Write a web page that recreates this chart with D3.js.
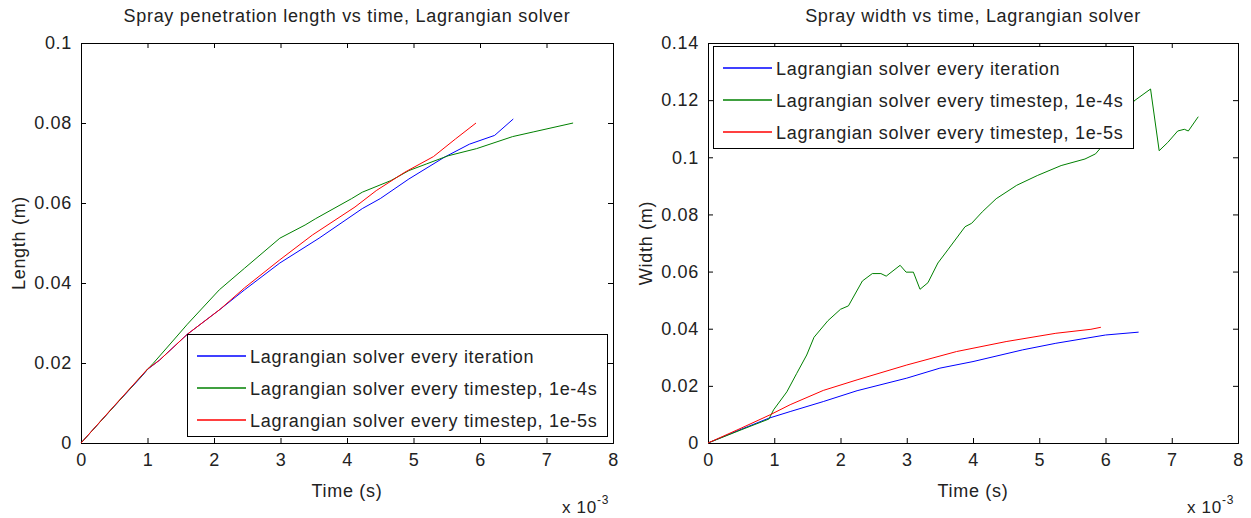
<!DOCTYPE html>
<html>
<head>
<meta charset="utf-8">
<script src="https://cdn.jsdelivr.net/npm/d3@7"></script>
<style>
  body { margin: 0; background: #fff; }
  svg text { font-family: "Liberation Sans", Arial, sans-serif; fill: #222; letter-spacing: 0.7px; }
</style>
</head>
<body>
<div id="chart"></div>
<script>
// time in units of 1e-3 s
const seriesNames = [
  "Lagrangian solver every iteration",
  "Lagrangian solver every timestep, 1e-4s",
  "Lagrangian solver every timestep, 1e-5s"
];
const seriesColors = ["#0000ff", "#008000", "#ff0000"];

// --- penetration length ---
const lenIterT = [0, 0.5, 0.92, 1.0, 1.18, 1.6, 2.09, 2.46, 2.99, 3.58, 4.23, 4.5, 4.93, 5.46, 5.84, 6.22, 6.5];
const lenIterV = [0, 0.0092, 0.0168, 0.0184, 0.0207, 0.0272, 0.0334, 0.0383, 0.045, 0.0512, 0.0586, 0.0611, 0.066, 0.0714, 0.0747, 0.0769, 0.081];
const len4T = [0, 0.5, 1.0, 1.08, 1.38, 1.6, 2.08, 2.46, 2.99, 3.37, 3.53, 4.07, 4.23, 4.66, 4.93, 5.2, 5.52, 5.95, 6.49, 6.81, 7.4];
const len4V = [0, 0.0092, 0.0184, 0.0198, 0.0255, 0.0297, 0.0383, 0.0437, 0.0512, 0.0545, 0.0561, 0.0611, 0.0627, 0.0656, 0.0681, 0.0698, 0.0718, 0.0736, 0.0766, 0.0778, 0.080];
const len5T = [0, 0.5, 1.0, 1.18, 1.6, 2.09, 2.46, 2.99, 3.48, 4.12, 4.44, 4.87, 5.3, 5.63, 5.94];
const len5V = [0, 0.0093, 0.0185, 0.0207, 0.0272, 0.0334, 0.0388, 0.0458, 0.052, 0.059, 0.0631, 0.0677, 0.0716, 0.076, 0.080];

// --- spray width ---
const widIterT = [0, 0.5, 0.92, 1.24, 1.74, 2.25, 3.0, 3.5, 4.0, 4.75, 5.25, 6.0, 6.5];
const widIterV = [0, 0.0048, 0.0087, 0.011, 0.0145, 0.0183, 0.0227, 0.0262, 0.0285, 0.0326, 0.0349, 0.0378, 0.0388];
const wid4T = [0, 0.5, 0.92, 0.99, 1.19, 1.34, 1.49, 1.6, 1.81, 2.0, 2.12, 2.33, 2.48, 2.61, 2.69, 2.9, 2.99, 3.1, 3.2, 3.32, 3.47, 3.62, 3.88, 3.98, 4.14, 4.35, 4.66, 4.97, 5.33, 5.69, 5.85, 6.1, 6.3, 6.43, 6.68, 6.81, 6.94, 7.09, 7.19, 7.25, 7.4];
const wid4V = [0, 0.0046, 0.0084, 0.0116, 0.0179, 0.0244, 0.0308, 0.037, 0.0428, 0.0468, 0.048, 0.0567, 0.0593, 0.0593, 0.0584, 0.0622, 0.0598, 0.0598, 0.0538, 0.0561, 0.063, 0.0676, 0.0757, 0.0769, 0.0809, 0.0855, 0.0902, 0.0936, 0.0971, 0.0994, 0.1012, 0.108, 0.115, 0.1197, 0.1239, 0.1023, 0.1052, 0.1092, 0.1098, 0.1092, 0.1142];
const wid5T = [0, 0.5, 0.94, 1.24, 1.74, 2.25, 3.0, 3.75, 4.5, 5.25, 5.78, 5.93];
const wid5V = [0, 0.0052, 0.0099, 0.0134, 0.0184, 0.0221, 0.0273, 0.032, 0.0355, 0.0384, 0.0398, 0.0405];

const xTicks = [0, 1, 2, 3, 4, 5, 6, 7, 8];
const lenTicks = [0, 0.02, 0.04, 0.06, 0.08, 0.1];
const widTicks = [0, 0.02, 0.04, 0.06, 0.08, 0.1, 0.12, 0.14];

const W = 1251, H = 518;
const svg = d3.select("#chart").append("svg").attr("width", W).attr("height", H);

function toPts(t, v) { return t.map((d, i) => [d, v[i]]); }

function panel(opt) {
  const x = d3.scaleLinear().domain([0, 8]).range([opt.left, opt.right]);
  const y = d3.scaleLinear().domain([0, opt.ymax]).range([443, 43]);
  const g = svg.append("g");
  const tick = 5;

  // axes box with inward ticks on all sides
  g.append("g").attr("transform", `translate(0,443)`)
    .call(d3.axisBottom(x).tickValues(xTicks).tickSize(-tick).tickPadding(10).tickFormat(d3.format("d")));
  g.append("g").attr("transform", `translate(0,43)`)
    .call(d3.axisTop(x).tickValues(xTicks).tickSize(-tick).tickFormat(""));
  g.append("g").attr("transform", `translate(${opt.left},0)`)
    .call(d3.axisLeft(y).tickValues(opt.ticks).tickSize(-tick).tickPadding(9).tickFormat(d => d === 0 ? "0" : String(+d.toFixed(2))));
  g.append("g").attr("transform", `translate(${opt.right},0)`)
    .call(d3.axisRight(y).tickValues(opt.ticks).tickSize(-tick).tickFormat(""));
  g.selectAll(".domain").attr("stroke", "#000");
  g.selectAll(".tick line").attr("stroke", "#000");
  g.selectAll(".tick text").style("font-size", "18px").attr("fill", "#222");

  const line = d3.line().x(d => x(d[0])).y(d => y(d[1]));
  opt.series.forEach((s, i) => {
    g.append("path").datum(s).attr("fill", "none")
      .attr("stroke", seriesColors[i]).attr("stroke-width", 1).attr("d", line);
  });

  const cx = (opt.left + opt.right) / 2;
  g.append("text").attr("x", cx).attr("y", 22).attr("text-anchor", "middle")
    .style("font-size", "18px").text(opt.title);
  g.append("text").attr("x", cx).attr("y", 497).attr("text-anchor", "middle")
    .style("font-size", "18px").text("Time (s)");
  g.append("text").attr("transform", `translate(${opt.left - 56},243) rotate(-90)`)
    .attr("text-anchor", "middle").style("font-size", "18px").text(opt.ylabel);
  const ex = g.append("text").attr("x", opt.right - 51).attr("y", 513).style("font-size", "17px");
  ex.append("tspan").text("x 10");
  ex.append("tspan").attr("dy", -9).style("font-size", "12px").text("-3");

  // legend
  const lg = g.append("g").attr("transform", `translate(${opt.lx},${opt.ly})`);
  lg.append("rect").attr("x", 0.5).attr("y", 0.5).attr("width", 420).attr("height", 102)
    .attr("fill", "#fff").attr("stroke", "#000");
  seriesNames.forEach((n, i) => {
    const yy = 22 + i * 32;
    lg.append("path").attr("d", `M10,${yy}H59`)
      .attr("stroke", seriesColors[i]).attr("stroke-width", 1.3).attr("fill", "none");
    lg.append("text").attr("x", 63).attr("y", yy + 7).style("font-size", "18px").text(n);
  });
}

panel({
  left: 81, right: 613, ymax: 0.1, ticks: lenTicks,
  title: "Spray penetration length vs time, Lagrangian solver",
  ylabel: "Length (m)", lx: 187, ly: 334,
  series: [toPts(lenIterT, lenIterV), toPts(len4T, len4V), toPts(len5T, len5V)]
});
panel({
  left: 708, right: 1238, ymax: 0.14, ticks: widTicks,
  title: "Spray width vs time, Lagrangian solver",
  ylabel: "Width (m)", lx: 713, ly: 46,
  series: [toPts(widIterT, widIterV), toPts(wid4T, wid4V), toPts(wid5T, wid5V)]
});
</script>
</body>
</html>
